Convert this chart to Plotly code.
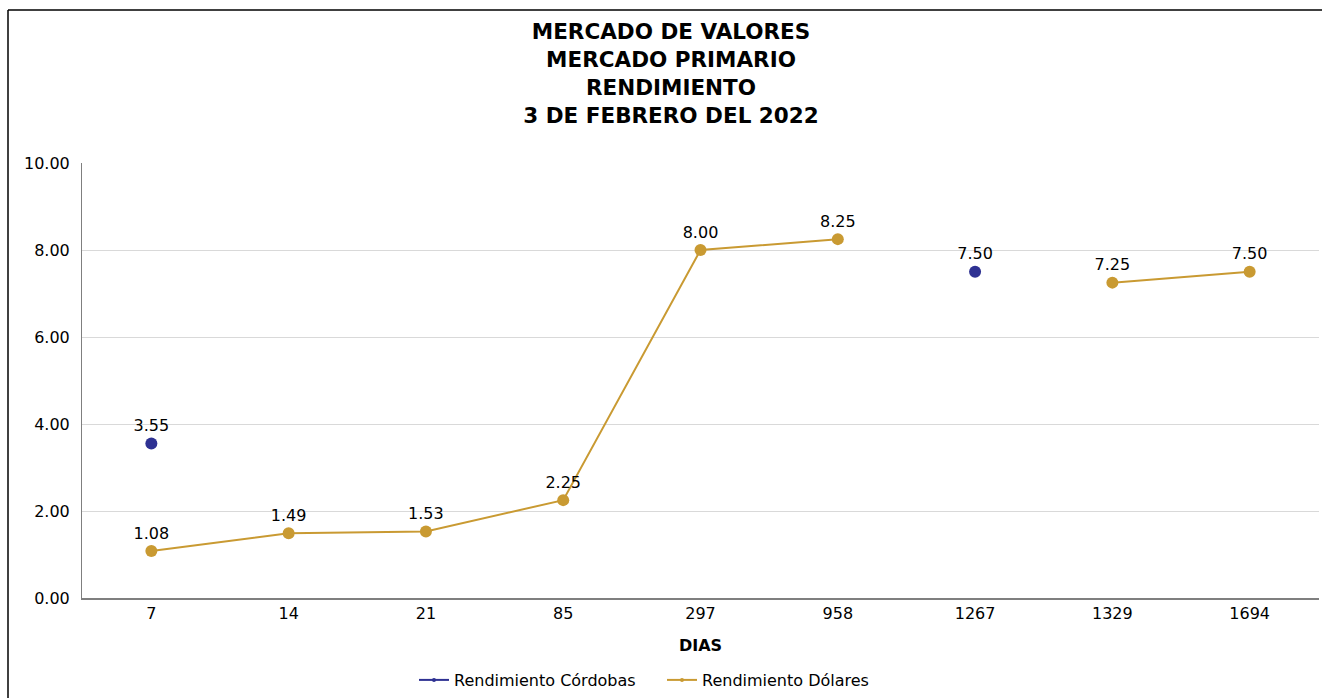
import plotly.graph_objects as go

dias = ["7", "14", "21", "85", "297", "958", "1267", "1329", "1694"]
rend_cordobas = [3.55, None, None, None, None, None, 7.50, None, None]
rend_dolares = [1.08, 1.49, 1.53, 2.25, 8.00, 8.25, None, 7.25, 7.50]

title_lines = ["MERCADO DE VALORES", "MERCADO PRIMARIO", "RENDIMIENTO", "3 DE FEBRERO DEL 2022"]

c_cord = "#2E3192"
c_dol = "#C99A32"
FONT = "DejaVu Sans"

def fmt(vals):
    return [("%.2f" % v) if v is not None else "" for v in vals]

fig = go.Figure()
fig.add_trace(go.Scatter(
    x=dias, y=rend_cordobas, mode="markers+text", text=fmt(rend_cordobas),
    textposition="top center", textfont=dict(size=16, color="black", family=FONT),
    marker=dict(color=c_cord, size=12), showlegend=False, connectgaps=False,
    hoverinfo="x+y"))
fig.add_trace(go.Scatter(
    x=dias, y=rend_dolares, mode="lines+markers+text", text=fmt(rend_dolares),
    textposition="top center", textfont=dict(size=16, color="black", family=FONT),
    marker=dict(color=c_dol, size=12), line=dict(color=c_dol, width=2),
    showlegend=False, connectgaps=False, hoverinfo="x+y"))
# legend entries
fig.add_trace(go.Scatter(x=[None], y=[None], mode="lines+markers", name="Rendimiento Córdobas",
                         marker=dict(color=c_cord, size=4), line=dict(color=c_cord, width=2)))
fig.add_trace(go.Scatter(x=[None], y=[None], mode="lines+markers", name="Rendimiento Dólares",
                         marker=dict(color=c_dol, size=4), line=dict(color=c_dol, width=2)))

fig.update_layout(
    width=1322, height=698,
    margin=dict(l=82, r=3, t=163, b=100),
    paper_bgcolor="white", plot_bgcolor="white",
    font=dict(family=FONT, size=16, color="black"),
    title=dict(text="<br>".join("<b>%s</b>" % t for t in title_lines),
               x=671/1322, xanchor="center", xref="container",
               y=1-39/698, yanchor="top", yref="container",
               font=dict(size=21.5, family=FONT, color="black")),
    xaxis=dict(type="category", categoryorder="array", categoryarray=dias,
               showgrid=False, showline=True, linecolor="#7f7f7f", linewidth=1.5,
               ticks="", tickfont=dict(size=16),
               title=dict(text="<b>DIAS</b>", font=dict(size=16), standoff=18)),
    yaxis=dict(range=[0, 10], dtick=2, tickformat=".2f", showgrid=True,
               gridcolor="#d9d9d9", gridwidth=1, showline=True, linecolor="#7f7f7f",
               linewidth=1, zeroline=False, ticks="", ticklabelstandoff=8,
               tickfont=dict(size=16)),
    legend=dict(orientation="h", xref="container", yref="container",
                x=414/1322, xanchor="left", y=18/698, yanchor="middle",
                font=dict(size=16), itemwidth=30, tracegroupgap=0,
                entrywidth=203, entrywidthmode="pixels"),
    showlegend=True,
)

# chart border (left and top edges visible)
bx0 = (8 - 82) / 1237
by1 = 1 + (163 - 10) / 435
fig.add_shape(type="line", xref="paper", yref="paper", x0=bx0, x1=bx0, y0=-0.4, y1=by1,
              line=dict(color="black", width=1.5), layer="below")
fig.add_shape(type="line", xref="paper", yref="paper", x0=bx0, x1=1.1, y0=by1, y1=by1,
              line=dict(color="black", width=1.5), layer="below")

fig.write_html("out.html", config={"displayModeBar": False},
               post_script="document.body.style.margin='0';document.body.style.overflow='hidden';")
